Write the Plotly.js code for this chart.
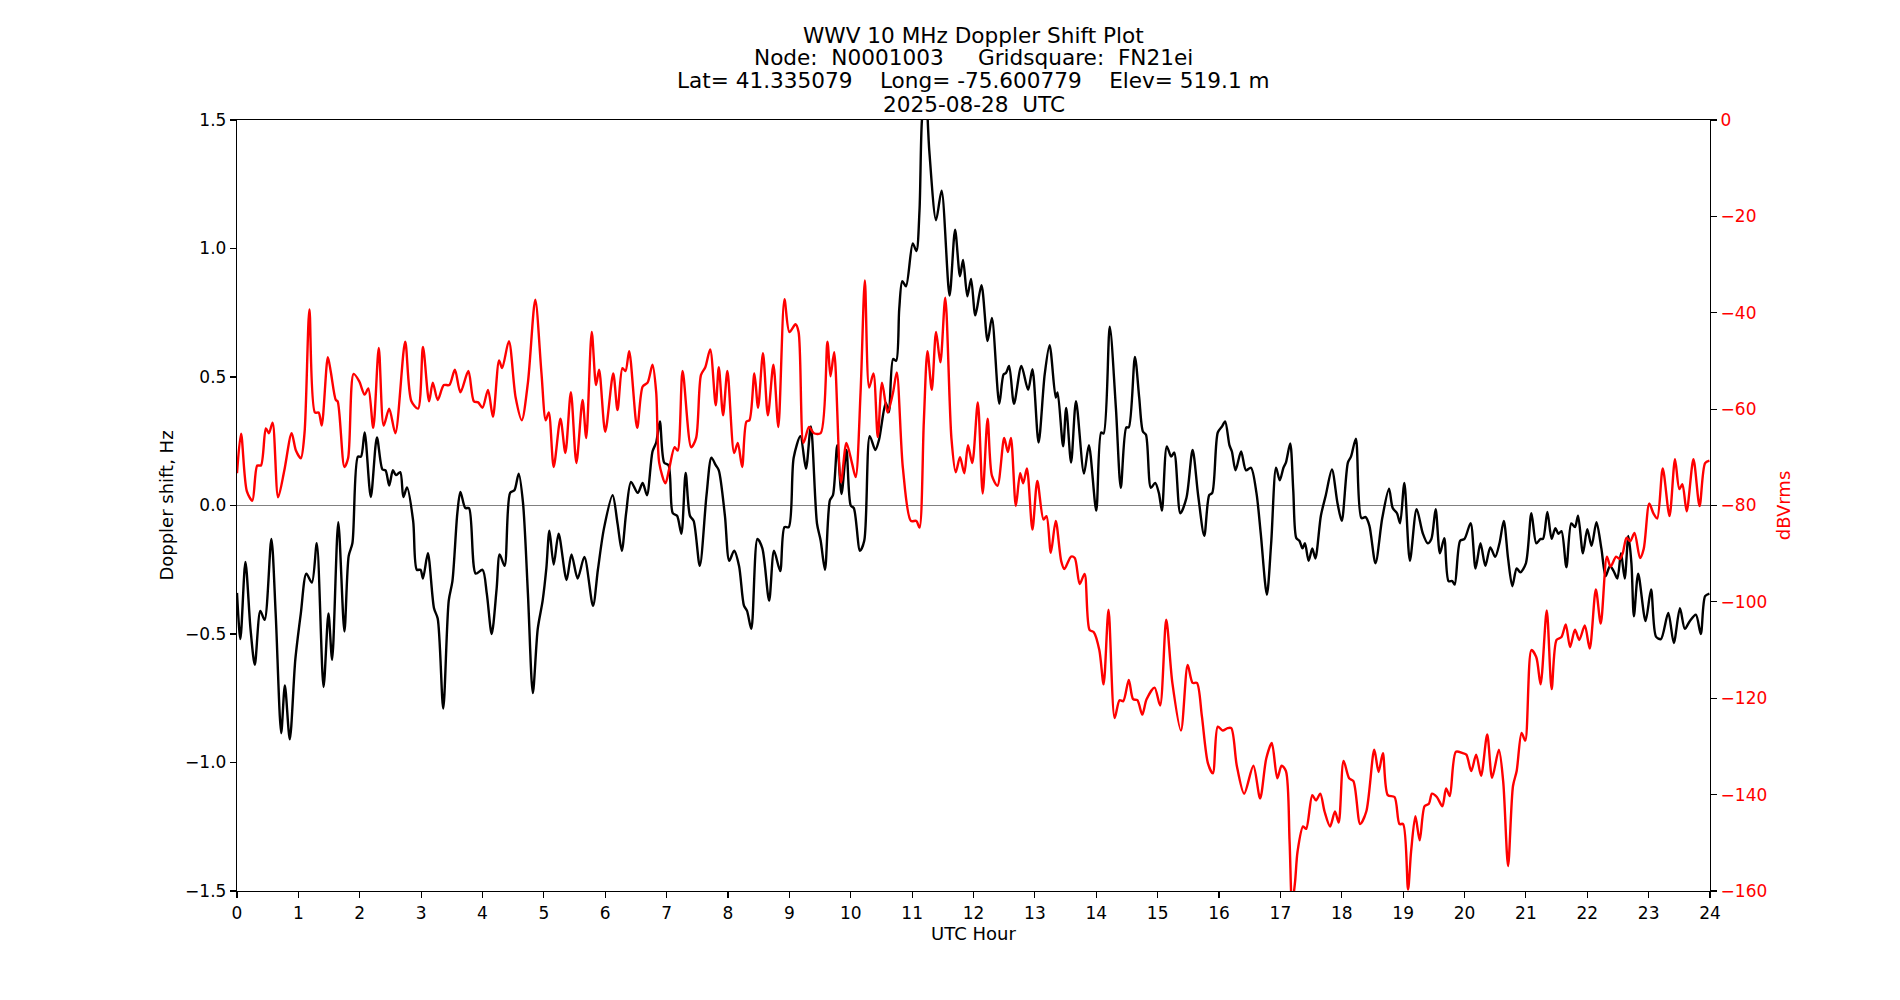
<!DOCTYPE html>
<html>
<head>
<meta charset="utf-8">
<script src="https://cdn.plot.ly/plotly-3.0.1.min.js"></script>
<style>
  html, body { margin: 0; padding: 0; background: #ffffff; }
  #chart { width: 1900px; height: 1000px; }
</style>
</head>
<body>
<div id="chart"></div>
<script>
// Doppler shift of the WWV 10 MHz carrier (Hz) against UTC hour
const dopplerHours = [
  0.00, 0.055, 0.137, 0.22, 0.29, 0.38, 0.45, 0.56, 0.63, 0.72, 0.78, 0.86, 0.95,
  1.04, 1.13, 1.22, 1.30, 1.41, 1.49, 1.55, 1.65, 1.75, 1.82, 1.88, 1.97,
  2.02, 2.08, 2.18, 2.28, 2.37, 2.42, 2.48, 2.54, 2.59, 2.66, 2.71, 2.77, 2.87, 2.93, 2.99,
  3.03, 3.11, 3.21, 3.27, 3.36, 3.45, 3.51, 3.59, 3.64, 3.72, 3.78, 3.89,
  4.00, 4.07, 4.15, 4.23, 4.28, 4.36, 4.45, 4.52, 4.59, 4.66, 4.74, 4.82, 4.90, 4.98,
  5.04, 5.09, 5.16, 5.24, 5.37, 5.45, 5.55, 5.66, 5.80, 5.88, 5.98,
  6.12, 6.20, 6.27, 6.34, 6.42, 6.53, 6.61, 6.68, 6.77, 6.83, 6.89, 6.96,
  7.03, 7.10, 7.17, 7.24, 7.31, 7.38, 7.44, 7.54, 7.65, 7.73, 7.80, 7.85, 7.95,
  8.02, 8.10, 8.18, 8.26, 8.31, 8.38, 8.48, 8.56, 8.67, 8.75, 8.85, 8.92, 8.99,
  9.07, 9.18, 9.27, 9.35, 9.45, 9.51, 9.58, 9.66, 9.71, 9.78, 9.85, 9.93,
  10.00, 10.05, 10.15, 10.22, 10.31, 10.40, 10.46, 10.57, 10.62, 10.69, 10.74, 10.79, 10.84, 10.90,
  11.01, 11.07, 11.12, 11.16, 11.22, 11.28, 11.39, 11.48, 11.61, 11.70, 11.78, 11.83, 11.90, 11.96,
  12.03, 12.13, 12.23, 12.30, 12.42, 12.49, 12.53, 12.58, 12.66, 12.78, 12.89, 12.96,
  13.06, 13.16, 13.24, 13.34, 13.37, 13.46, 13.51, 13.59, 13.67, 13.80, 13.88,
  14.00, 14.08, 14.12, 14.22, 14.32, 14.40, 14.49, 14.53, 14.63, 14.70, 14.76, 14.81, 14.89, 14.96,
  15.02, 15.07, 15.15, 15.22, 15.27, 15.37, 15.47, 15.57, 15.66, 15.76, 15.84, 15.89, 15.98,
  16.05, 16.10, 16.17, 16.21, 16.27, 16.36, 16.44, 16.52, 16.61, 16.68, 16.78, 16.85, 16.93, 16.99,
  17.05, 17.09, 17.16, 17.21, 17.26, 17.31, 17.36, 17.40, 17.46, 17.52, 17.57, 17.66, 17.74, 17.84, 17.93,
  18.00, 18.10, 18.15, 18.23, 18.32, 18.39, 18.45, 18.55, 18.66, 18.77, 18.83, 18.90, 18.95,
  19.02, 19.11, 19.22, 19.32, 19.40, 19.46, 19.53, 19.60, 19.67, 19.74, 19.80, 19.84, 19.93,
  20.00, 20.10, 20.18, 20.26, 20.34, 20.42, 20.50, 20.57, 20.64, 20.71, 20.78, 20.85, 20.91,
  21.00, 21.09, 21.17, 21.24, 21.28, 21.35, 21.42, 21.48, 21.53, 21.58, 21.66, 21.74, 21.80, 21.85, 21.93,
  22.00, 22.07, 22.15, 22.23, 22.30, 22.37, 22.43, 22.49, 22.55, 22.61, 22.67, 22.72, 22.76, 22.83, 22.95,
  23.04, 23.12, 23.20, 23.32, 23.41, 23.51, 23.59, 23.67, 23.77, 23.85, 23.92, 23.99
];
const dopplerHz = [
  -0.34, -0.52, -0.22, -0.48, -0.62, -0.41, -0.445, -0.13, -0.42, -0.886, -0.70, -0.91, -0.60,
  -0.42, -0.265, -0.30, -0.147, -0.706, -0.42, -0.60, -0.065, -0.49, -0.196, -0.147, 0.19,
  0.19, 0.284, 0.033, 0.265, 0.14, 0.137, 0.078, 0.137, 0.118, 0.13, 0.033, 0.07, -0.06, -0.25, -0.25,
  -0.284, -0.186, -0.40, -0.44, -0.79, -0.37, -0.294, -0.03, 0.053, -0.01, -0.01, -0.265,
  -0.25, -0.343, -0.50, -0.324, -0.19, -0.235, 0.049, 0.059, 0.124, 0.01, -0.343, -0.73, -0.48, -0.37,
  -0.245, -0.098, -0.23, -0.11, -0.29, -0.19, -0.284, -0.20, -0.39, -0.25, -0.088,
  0.04, -0.07, -0.176, -0.03, 0.092, 0.049, 0.088, 0.04, 0.21, 0.245, 0.327, 0.167,
  0.157, -0.03, -0.04, -0.11, 0.127, -0.04, -0.06, -0.235, 0.04, 0.186, 0.157, 0.137, -0.04,
  -0.215, -0.176, -0.235, -0.39, -0.41, -0.48, -0.13, -0.167, -0.37, -0.176, -0.255, -0.084, -0.084,
  0.186, 0.27, 0.143, 0.308, -0.07, -0.137, -0.25, 0.02, 0.04, 0.235, 0.045, 0.216,
  0.0, -0.01, -0.176, -0.137, 0.27, 0.216, 0.255, 0.40, 0.363, 0.57, 0.563, 0.765, 0.873, 0.853,
  1.02, 0.99, 1.147, 1.50, 1.62, 1.38, 1.11, 1.225, 0.817, 1.073, 0.892, 0.955, 0.814, 0.882,
  0.74, 0.857, 0.64, 0.73, 0.396, 0.51, 0.516, 0.543, 0.396, 0.543, 0.45, 0.53,
  0.245, 0.51, 0.624, 0.42, 0.44, 0.23, 0.38, 0.167, 0.406, 0.124, 0.235,
  -0.02, 0.284, 0.28, 0.696, 0.38, 0.069, 0.304, 0.304, 0.578, 0.42, 0.288, 0.275, 0.069, 0.088,
  0.049, -0.02, 0.23, 0.19, 0.206, -0.03, 0.03, 0.216, 0.04, -0.118, 0.04, 0.049, 0.284,
  0.308, 0.327, 0.235, 0.21, 0.137, 0.21, 0.137, 0.147, 0.049, -0.108, -0.347, -0.147, 0.147, 0.098,
  0.147, 0.167, 0.241, 0.059, -0.127, -0.137, -0.167, -0.147, -0.215, -0.167, -0.206, -0.04, 0.04, 0.14, 0.01,
  -0.06, 0.167, 0.19, 0.26, -0.049, -0.045, -0.078, -0.225, -0.049, 0.065, -0.01, -0.03, -0.069,
  0.088, -0.215, -0.014, -0.108, -0.147, -0.13, -0.014, -0.186, -0.127, -0.294, -0.294, -0.308, -0.137,
  -0.13, -0.069, -0.245, -0.147, -0.235, -0.163, -0.2, -0.147, -0.06, -0.206, -0.314, -0.245, -0.26,
  -0.225, -0.03, -0.147, -0.13, -0.13, -0.025, -0.13, -0.088, -0.11, -0.10, -0.24, -0.07, -0.084, -0.04, -0.186,
  -0.092, -0.157, -0.065, -0.167, -0.275, -0.235, -0.255, -0.284, -0.186, -0.284, -0.118, -0.225, -0.431, -0.265, -0.45,
  -0.327, -0.51, -0.52, -0.418, -0.535, -0.40, -0.48, -0.45, -0.425, -0.50, -0.353, -0.343
];

// Received carrier level (dBVrms) against UTC hour
const powerHours = [
  0.00, 0.066, 0.16, 0.25, 0.33, 0.39, 0.47, 0.52, 0.58, 0.67, 0.77, 0.89, 0.96,
  1.04, 1.10, 1.18, 1.27, 1.33, 1.38, 1.48, 1.53, 1.61, 1.64, 1.75, 1.81, 1.90, 1.99,
  2.08, 2.14, 2.22, 2.31, 2.39, 2.48, 2.58, 2.74, 2.84, 2.95,
  3.03, 3.13, 3.19, 3.27, 3.37, 3.46, 3.55, 3.64, 3.77, 3.86, 3.93,
  4.00, 4.09, 4.17, 4.27, 4.32, 4.43, 4.54, 4.64, 4.74, 4.86, 4.96,
  5.03, 5.08, 5.16, 5.27, 5.35, 5.44, 5.53, 5.63, 5.69, 5.78, 5.85, 5.90,
  6.00, 6.13, 6.20, 6.28, 6.33, 6.39, 6.52, 6.61, 6.69, 6.77, 6.83, 6.88, 6.98,
  7.04, 7.13, 7.18, 7.26, 7.40, 7.48, 7.56, 7.63, 7.71, 7.80, 7.85, 7.92, 7.99,
  8.10, 8.16, 8.23, 8.30, 8.35, 8.43, 8.49, 8.57, 8.65, 8.74, 8.82, 8.92,
  9.00, 9.10, 9.15, 9.23, 9.32, 9.40, 9.51, 9.62, 9.67, 9.73, 9.84, 9.93,
  10.02, 10.08, 10.16, 10.23, 10.30, 10.37, 10.44, 10.51, 10.60, 10.69, 10.75, 10.85, 10.98,
  11.07, 11.12, 11.19, 11.25, 11.32, 11.39, 11.46, 11.54, 11.64, 11.71, 11.78, 11.85, 11.91, 11.98,
  12.07, 12.15, 12.23, 12.30, 12.39, 12.50, 12.56, 12.61, 12.69, 12.76, 12.81, 12.87, 12.96,
  13.04, 13.14, 13.19, 13.26, 13.34, 13.43, 13.48, 13.59, 13.65, 13.73, 13.81, 13.89, 13.96,
  14.05, 14.12, 14.20, 14.30, 14.38, 14.44, 14.53, 14.60, 14.67, 14.75, 14.82, 14.95,
  15.04, 15.14, 15.24, 15.38, 15.49, 15.57, 15.64, 15.72, 15.82, 15.90, 15.98,
  16.06, 16.14, 16.20, 16.29, 16.41, 16.56, 16.67, 16.77, 16.86, 16.95,
  17.02, 17.09, 17.15, 17.19, 17.24, 17.28, 17.37, 17.42, 17.52, 17.58, 17.65, 17.72, 17.81, 17.89, 17.95,
  18.03, 18.12, 18.19, 18.30, 18.40, 18.53, 18.60, 18.67, 18.75, 18.86, 18.94,
  19.00, 19.08, 19.13, 19.20, 19.27, 19.35, 19.42, 19.47, 19.55, 19.64, 19.70, 19.76, 19.86, 19.97,
  20.03, 20.11, 20.19, 20.27, 20.37, 20.45, 20.56, 20.63, 20.71, 20.79, 20.85, 20.93, 20.99,
  21.09, 21.17, 21.24, 21.34, 21.42, 21.50, 21.58, 21.65, 21.72, 21.80, 21.87, 21.96,
  22.04, 22.14, 22.22, 22.32, 22.38, 22.47, 22.53, 22.58, 22.64, 22.70, 22.77, 22.86, 22.92,
  23.01, 23.08, 23.14, 23.23, 23.34, 23.43, 23.50, 23.55, 23.62, 23.73, 23.83, 23.92, 23.99
];
const powerDb = [
  -73.3, -65.1, -77, -79, -71.7, -71.7, -64, -65, -62.8, -78.3, -72.8, -65, -68.6,
  -70.2, -65, -39.3, -60.7, -60.7, -63.4, -49.2, -52.4, -58.1, -58.4, -72, -70.2, -52.7, -54.2,
  -57, -55.7, -63.9, -47.3, -63.4, -59.9, -65, -46, -58.3, -59.9,
  -47.1, -58.4, -54.5, -58.1, -55, -55, -51.8, -56.5, -52.1, -58.4, -58.6,
  -59.7, -56, -61.6, -49.9, -51.5, -45.9, -57.6, -62.3, -54.5, -37.3, -52.4,
  -62.3, -60.7, -72, -62, -69.1, -56.5, -71.2, -58.1, -66, -44, -55, -51.8,
  -64.7, -52.6, -60.2, -51.5, -52.1, -48, -63.9, -55.3, -54.5, -50.8, -56.5, -71.2, -75.4,
  -72.5, -67.9, -68.6, -52.1, -67.9, -66, -52.9, -51.3, -47.6, -59.2, -51.3, -61.3, -52.1,
  -69.1, -67, -72, -62.6, -62.3, -52.6, -59.7, -48.4, -61.3, -50.8, -63.7, -37.2,
  -44, -42.4, -44, -67, -63.7, -65, -65, -46, -53.2, -48.2, -75.2, -67,
  -71.2, -74.1, -56.5, -33.3, -55.5, -52.6, -65.8, -54.5, -60.7, -56.5, -52.4, -72.3, -83.2,
  -83.2, -84.6, -62.8, -48, -56, -44, -50.3, -36.9, -66, -73.1, -70, -73.3, -67.5, -71.2,
  -58.6, -77.5, -62, -73.8, -75.9, -66, -68.9, -66, -80.1, -73.3, -75.4, -72.3, -85,
  -74.9, -82.9, -82.2, -89.8, -83.2, -91.6, -93.2, -90.6, -90.9, -96.3, -94.2, -105.8, -106.3,
  -110, -117.1, -101.6, -124.1, -120.4, -120.6, -116.2, -120.2, -120.4, -123.4, -120.2, -117.8,
  -121.5, -103.7, -116.8, -126.7, -113.1, -116.8, -116.8, -123.6, -133.5, -135.6, -125.9,
  -126.7, -126.2, -126.2, -134, -139.8, -134, -140.8, -132.5, -129.3, -136.6,
  -134, -135.1, -149.7, -163, -158, -151.8, -146.6, -147.1, -140.1, -141.2, -139.8, -143.5, -146.6, -143.5, -145.8,
  -133, -136.6, -137.2, -146.1, -143.5, -130.7, -135.3, -131.4, -140.1, -140.5, -146.1,
  -146.1, -159.7, -151.8, -144.5, -149.5, -142.4, -141.9, -139.8, -140.5, -142.4, -138.7, -140.3, -131.1, -131.4,
  -131.7, -135.1, -131.7, -136.1, -127.5, -136.5, -130.7, -137.2, -154.8, -138.2, -135.1, -127.2, -128.8,
  -110, -111.5, -117.1, -101.8, -118.1, -107.9, -107.3, -104.7, -109.4, -105.8, -107.9, -104.9,
  -109.7, -97.4, -104.5, -90.6, -92.7, -90.6, -91.1, -89.8, -86.7, -87.4, -85.7, -90.9, -89,
  -79.6, -81.7, -82.7, -72.3, -82.2, -70.4, -76.6, -75.6, -81.2, -70.4, -80.1, -71.2, -70.7
];

const titleLines = [
  'WWV 10 MHz Doppler Shift Plot',
  'Node:  N0001003     Gridsquare:  FN21ei',
  'Lat= 41.335079    Long= -75.600779    Elev= 519.1 m',
  '2025-08-28  UTC'
];
const titleLineY = [1.1102, 1.0810, 1.0512, 1.0198];

const FONT = 'DejaVu Sans, Liberation Sans, sans-serif';

const traces = [
  {
    x: dopplerHours, y: dopplerHz, type: 'scatter', mode: 'lines',
    line: { color: '#000000', width: 2.4, shape: 'spline', smoothing: 0.8 },
    yaxis: 'y', hoverinfo: 'x+y', showlegend: false
  },
  {
    x: powerHours, y: powerDb, type: 'scatter', mode: 'lines',
    line: { color: '#ff0000', width: 2.4, shape: 'spline', smoothing: 0.8 },
    yaxis: 'y2', hoverinfo: 'x+y', showlegend: false
  }
];

const layout = {
  width: 1900, height: 1000,
  paper_bgcolor: '#ffffff', plot_bgcolor: '#ffffff',
  margin: { l: 237, r: 190, t: 120, b: 109, pad: 0 },
  font: { family: FONT, size: 17, color: '#000000' },
  showlegend: false,
  xaxis: {
    range: [0, 24], tick0: 0, dtick: 1,
    showgrid: false, zeroline: false,
    showline: true, linecolor: '#000000', linewidth: 1.2, mirror: true,
    ticks: 'outside', ticklen: 6, tickwidth: 1.2, tickcolor: '#000000',
    tickfont: { family: FONT, size: 17, color: '#000000' },
    title: { text: 'UTC Hour', font: { family: FONT, size: 18, color: '#000000' }, standoff: 1 }
  },
  yaxis: {
    range: [-1.5, 1.5], tick0: 0, dtick: 0.5, tickformat: '.1f',
    showgrid: false,
    zeroline: true, zerolinecolor: '#808080', zerolinewidth: 1.3,
    showline: true, linecolor: '#000000', linewidth: 1.2, mirror: true,
    ticks: 'outside', ticklen: 6, tickwidth: 1.2, tickcolor: '#000000',
    tickfont: { family: FONT, size: 17, color: '#000000' },
    title: { text: 'Doppler shift, Hz', font: { family: FONT, size: 18, color: '#000000' }, standoff: 6 }
  },
  yaxis2: {
    overlaying: 'y', side: 'right',
    range: [-160, 0], tick0: 0, dtick: 20,
    showgrid: false, zeroline: false,
    showline: true, linecolor: '#000000', linewidth: 1.2,
    ticks: 'outside', ticklen: 6, tickwidth: 1.2, tickcolor: '#000000',
    tickfont: { family: FONT, size: 17, color: '#ff0000' },
    title: { text: 'dBVrms', font: { family: FONT, size: 18, color: '#ff0000' }, standoff: 11 }
  },
  annotations: titleLines.map((t, i) => ({
    text: t, xref: 'paper', yref: 'paper', x: 0.5, y: titleLineY[i],
    xanchor: 'center', yanchor: 'middle', showarrow: false,
    font: { family: FONT, size: 21.6, color: '#000000' }
  }))
};

Plotly.newPlot('chart', traces, layout, { displayModeBar: false, staticPlot: true });
</script>
</body>
</html>
